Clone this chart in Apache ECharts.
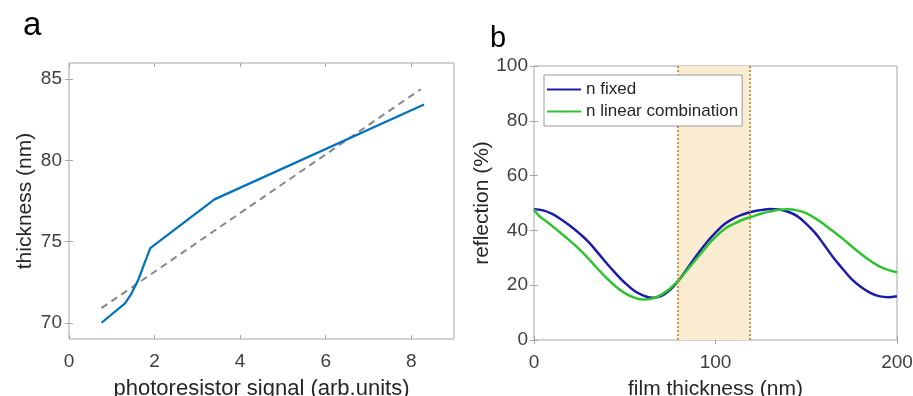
<!DOCTYPE html>
<html>
<head>
<meta charset="utf-8">
<style>
  * { margin: 0; padding: 0; }
  body { background: #ffffff; }
  #chart { width: 913px; height: 396px; }
</style>
</head>
<body>
<div id="chart"></div>
<script src="https://cdn.jsdelivr.net/npm/echarts@6/dist/echarts.min.js"></script>
<script>
// panel a: calibration curve
const signalX = [0.76, 1.31, 1.46, 1.62, 1.77, 1.90, 3.40, 8.30];
const thicknessY = [70.0, 71.2, 71.8, 72.65, 73.7, 74.6, 77.6, 83.45];
const fitX = [0.76, 8.22];
const fitY = [70.9, 84.38];
const aXTicks = [0, 2, 4, 6, 8];
const aYTicks = [70, 75, 80, 85];

// panel b: reflection vs film thickness
const fixedX = [0, 5, 10, 15, 20, 25, 30, 35, 40, 45, 50, 55, 60, 65, 70, 75, 80, 85, 90, 95, 100,
  105, 110, 115, 120, 125, 130, 135, 140, 145, 150, 155, 160, 165, 170, 175, 180, 185, 190, 195, 200];
const fixedY = [47.7, 47.3, 46.0, 44.0, 41.6, 38.9, 35.8, 32.0, 28.0, 24.3, 20.9, 18.1, 16.3, 15.4, 16.0, 18.3, 22.0, 26.6, 31.2, 35.5, 39.2,
  42.3, 44.4, 45.8, 46.8, 47.4, 47.8, 47.6, 46.8, 45.2, 42.4, 39.0, 34.6, 30.0, 26.0, 22.2, 19.4, 17.3, 16.0, 15.6, 16.0];
const linearX = [0, 1, 2.5, 4, 7, 10, 15, 20, 25, 30, 35, 40, 45, 50, 55, 60, 65, 70, 75, 80, 85, 90, 95, 100,
  105, 110, 115, 120, 125, 130, 135, 140, 145, 150, 155, 160, 165, 170, 175, 180, 185, 190, 195, 200];
const linearY = [47.7, 46.6, 45.5, 44.6, 43.2, 41.6, 38.9, 36.1, 33.1, 29.7, 26.0, 22.6, 19.5, 17.1, 15.5, 14.8, 15.1, 16.5, 18.8, 22.0, 26.0, 30.0, 34.0, 37.6,
  40.5, 42.4, 43.9, 45.0, 46.1, 46.9, 47.5, 47.7, 47.3, 46.3, 44.4, 42.1, 39.6, 37.0, 34.2, 31.5, 29.0, 27.0, 25.6, 24.7];
const bandRange = [79, 119];
const bXTicks = [0, 100, 200];
const bYTicks = [0, 20, 40, 60, 80, 100];

const FONT = 'Liberation Sans, Arial, sans-serif';
const BOX = '#a6a6a6';
const LABEL = '#404040';

const pairs = (xs, ys) => xs.map((x, i) => [x, ys[i]]);

// MATLAB-like box: inside ticks, labels only on bottom/left axes
const tickAxis = (extra, ticks) => Object.assign({
  type: 'value',
  axisLine: { show: false },
  splitLine: { show: false },
  axisTick: { show: true, inside: true, length: 4, customValues: ticks, lineStyle: { color: BOX } },
  axisLabel: { show: false },
  nameTextStyle: { color: '#262626', fontSize: 21, fontFamily: FONT },
  nameLocation: 'middle'
}, extra);

const label = (ticks, margin) => ({
  color: LABEL, fontSize: 19, fontFamily: FONT, margin: margin,
  customValues: ticks, showMinLabel: true, showMaxLabel: true
});

const option = {
  animation: false,
  backgroundColor: '#ffffff',
  title: [
    { text: 'a', left: 18, top: 4, textStyle: { fontSize: 33, fontWeight: 'normal', color: '#000', fontFamily: FONT } },
    { text: 'b', left: 485, top: 19, textStyle: { fontSize: 29, fontWeight: 'normal', color: '#000', fontFamily: FONT } }
  ],
  grid: [
    { left: 69, top: 63, width: 385, height: 276, outerBoundsMode: 'none', containLabel: false,
      show: true, borderColor: BOX, borderWidth: 1, backgroundColor: 'transparent' },
    { left: 534, top: 66, width: 363, height: 274, outerBoundsMode: 'none', containLabel: false,
      show: true, borderColor: BOX, borderWidth: 1, backgroundColor: 'transparent' }
  ],
  legend: {
    data: ['n fixed', 'n linear combination'],
    orient: 'vertical',
    left: 544, top: 75,
    padding: [6, 4, 6, 3],
    icon: 'rect',
    itemWidth: 34, itemHeight: 2, itemGap: 5,
    backgroundColor: '#ffffff',
    borderColor: '#999999', borderWidth: 1,
    textStyle: { fontSize: 17, color: '#262626', fontFamily: FONT },
    z: 10
  },
  xAxis: [
    tickAxis({ gridIndex: 0, min: 0, max: 9, name: 'photoresistor signal (arb.units)', nameGap: 39,
      nameTextStyle: { color: '#262626', fontSize: 22, fontFamily: FONT },
      axisLabel: label(aXTicks, 13) }, aXTicks),
    tickAxis({ gridIndex: 0, min: 0, max: 9, position: 'top' }, aXTicks),
    tickAxis({ gridIndex: 1, min: 0, max: 200, name: 'film thickness (nm)', nameGap: 39,
      axisLabel: label(bXTicks, 13) }, bXTicks),
    tickAxis({ gridIndex: 1, min: 0, max: 200, position: 'top' }, bXTicks)
  ],
  yAxis: [
    tickAxis({ gridIndex: 0, min: 69, max: 86, name: 'thickness (nm)', nameGap: 33,
      axisLabel: label(aYTicks, 7) }, aYTicks),
    tickAxis({ gridIndex: 0, min: 69, max: 86, position: 'right' }, aYTicks),
    tickAxis({ gridIndex: 1, min: 0, max: 100, name: 'reflection (%)', nameGap: 40,
      axisLabel: label(bYTicks, 6) }, bYTicks),
    tickAxis({ gridIndex: 1, min: 0, max: 100, position: 'right' }, bYTicks)
  ],
  series: [
    {
      name: 'fit', type: 'line', xAxisIndex: 0, yAxisIndex: 0,
      data: pairs(fitX, fitY), symbol: 'none',
      lineStyle: { color: '#888888', width: 2, type: [7, 5] }
    },
    {
      name: 'calibration', type: 'line', xAxisIndex: 0, yAxisIndex: 0,
      data: pairs(signalX, thicknessY), symbol: 'none',
      lineStyle: { color: '#0072BD', width: 2.2 }
    },
    {
      name: 'band', type: 'line', xAxisIndex: 2, yAxisIndex: 2, data: [], symbol: 'none',
      markArea: {
        silent: true,
        itemStyle: { color: '#faecd1' },
        data: [[{ xAxis: bandRange[0] }, { xAxis: bandRange[1] }]]
      },
      markLine: {
        silent: true, symbol: 'none', label: { show: false },
        lineStyle: { color: '#c9974a', type: [2, 2], width: 2 },
        data: bandRange.map(v => ({ xAxis: v }))
      }
    },
    {
      name: 'n fixed', type: 'line', xAxisIndex: 2, yAxisIndex: 2,
      data: pairs(fixedX, fixedY), symbol: 'none', smooth: 0.4,
      itemStyle: { color: '#1c1caa' },
      lineStyle: { color: '#1c1caa', width: 2.5 }
    },
    {
      name: 'n linear combination', type: 'line', xAxisIndex: 2, yAxisIndex: 2,
      data: pairs(linearX, linearY), symbol: 'none', smooth: 0.4,
      itemStyle: { color: '#2fc42f' },
      lineStyle: { color: '#2fc42f', width: 2.5 }
    }
  ]
};

const chart = echarts.init(document.getElementById('chart'), null, { renderer: 'canvas' });
chart.setOption(option);
</script>
</body>
</html>
